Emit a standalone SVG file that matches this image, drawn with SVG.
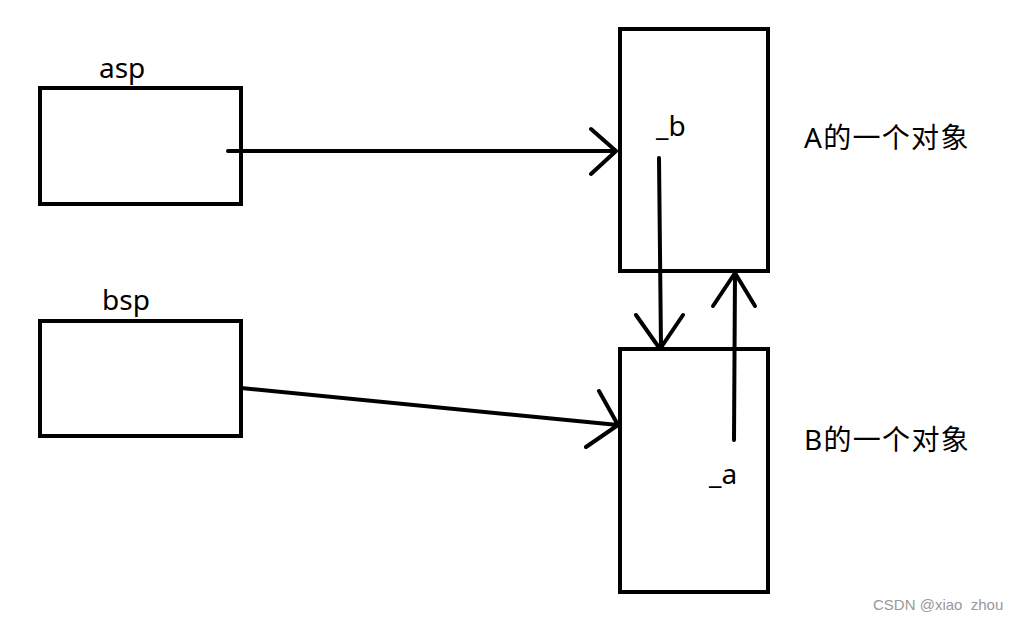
<svg xmlns="http://www.w3.org/2000/svg" width="1021" height="620" viewBox="0 0 1021 620">
<style>
.box{fill:none;stroke:#000;stroke-width:4}
.ln{fill:none;stroke:#000;stroke-width:4;stroke-linecap:round;stroke-linejoin:round}
.t{font-family:"Noto Sans","Noto Sans CJK SC",sans-serif;font-size:28px;fill:#000}
.c{font-family:"Noto Sans","Noto Sans CJK SC",sans-serif;font-size:28px;letter-spacing:1.3px;fill:#000}
.w{font-family:"Liberation Sans",Arial,sans-serif;font-size:15px;fill:#999;white-space:pre}
</style>
<rect width="1021" height="620" fill="#fff"/>
<g id="asp">
<rect class="box" x="40" y="88" width="201" height="116"/>
<text class="t" x="99" y="78">asp</text>
</g>
<g id="bsp">
<rect class="box" x="40" y="321" width="201" height="115"/>
<text class="t" x="102" y="310">bsp</text>
</g>
<g id="objA">
<rect class="box" x="620" y="29" width="148" height="242"/>
<text class="t" x="656" y="136">_b</text>
<text class="c" x="804" y="148">A的一个对象</text>
</g>
<g id="objB">
<rect class="box" x="620" y="349" width="148" height="243"/>
<text class="t" x="709" y="484">_a</text>
<text class="c" x="804" y="450">B的一个对象</text>
</g>
<g id="connectors">
<path class="ln" d="M228 151 L616 151 M591 129 L616 151 L591 174"/>
<path class="ln" d="M241 388 L618 425 M599 391 L618 425 L586 447"/>
<path class="ln" d="M659 158 L661 348 M636 315 L660 349 L683 315"/>
<path class="ln" d="M734 440 L735 273 M713 306 L735 273 L755 306"/>
</g>
<text class="w" x="873" y="610" xml:space="preserve">CSDN @xiao  zhou</text>
</svg>
